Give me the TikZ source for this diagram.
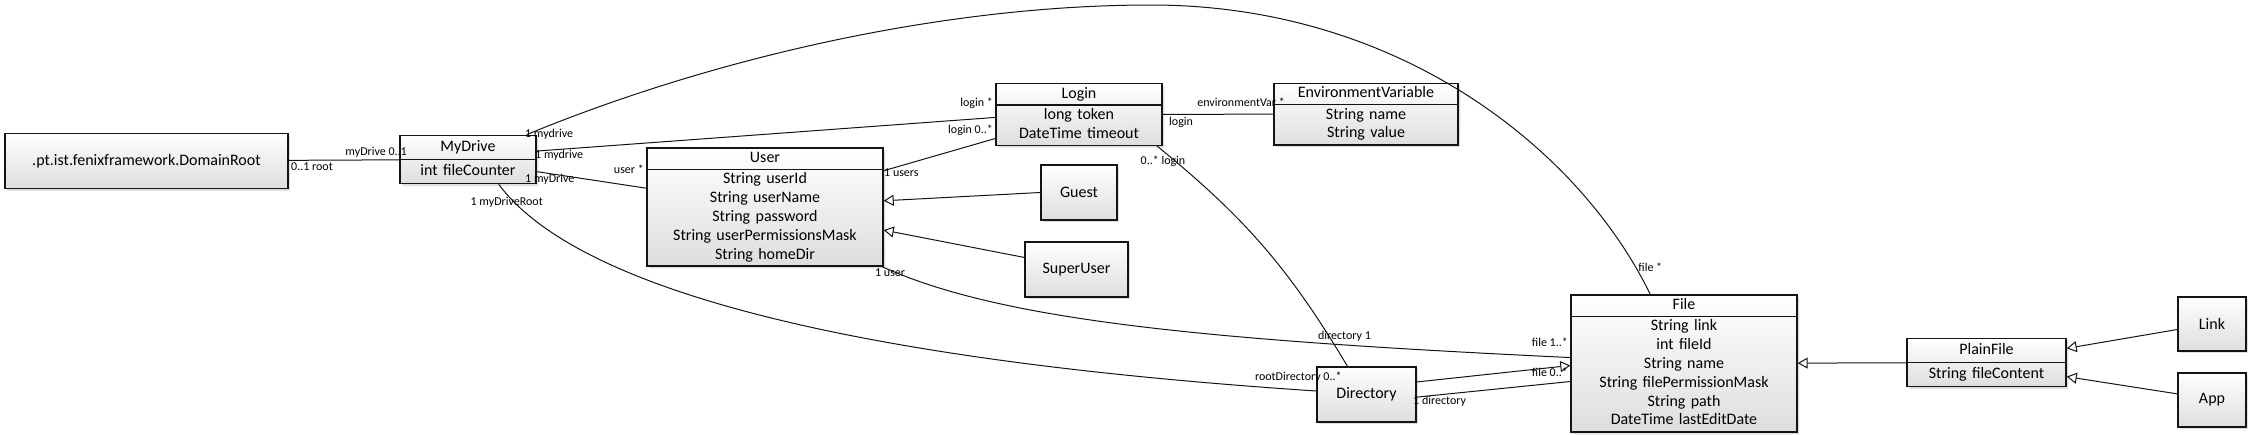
\documentclass[tikz,border=0pt]{standalone}
\usepackage{fontspec}
\setmainfont{Carlito}
\usetikzlibrary{shapes.multipart,shadows,arrows.meta}
\definecolor{colortext}{RGB}{20,20,20}
\definecolor{colorfill}{RGB}{222,222,222}

\begin{document}
\begin{tikzpicture}[
    x=0.5pt, y=-0.5pt,
    font={\fontsize{8}{9.4}\selectfont},
    base/.style={draw=colortext,line width=0.7pt,top color=white,bottom color=colorfill,
        drop shadow={shadow xshift=1.2pt,shadow yshift=-1.2pt,opacity=0.25}},
    cls/.style={base,rectangle split,rectangle split parts=2,align=center,inner xsep=2pt,inner ysep=0.3pt},
    plain/.style={base,rectangle,align=center,minimum height=27.5pt,inner sep=1pt},
    role/.style={font={\fontsize{6}{7}\selectfont},inner sep=1pt},
    assoc/.style={draw=colortext,line width=0.5pt},
    inherit/.style={assoc,-{Triangle[open,length=5pt,width=5.5pt]}},
]
    \useasboundingbox (0,0) rectangle (2250,434);

    % Classes
    \node[plain,minimum width=141.5pt] (root) at (146.5,161) {.pt.ist.fenixframework.DomainRoot};
    \node[cls,text width=64pt,inner ysep=1pt] (mydrive) at (468,159.5)
        {\strut MyDrive \nodepart{two}\strut int fileCounter};
    \node[cls,text width=114pt] (user) at (765,207)
        {\strut User \nodepart{two}\strut String userId\\String userName\\String password\\String userPermissionsMask\\String homeDir\strut};
    \node[cls,text width=79pt] (login) at (1079,114.5)
        {\strut Login \nodepart{two}\strut long token\\DateTime timeout\strut};
    \node[cls,text width=88pt] (envvar) at (1366,114)
        {\strut EnvironmentVariable \nodepart{two}\strut String name\\String value\strut};
    \node[plain,minimum width=38pt]   (guest)     at (1079,192.5)  {Guest};
    \node[plain,minimum width=51.5pt] (superuser) at (1076.5,269.5) {SuperUser};
    \node[plain,minimum width=49.5pt] (directory) at (1366.5,394.5) {Directory};
    \node[cls,text width=109pt] (file) at (1684,363.5)
        {\strut File \nodepart{two}\strut String link\\int fileId\\String name\\String filePermissionMask\\String path\\DateTime lastEditDate\strut};
    \node[cls,text width=75.5pt,inner ysep=1pt] (plainfile) at (1986.5,362.5)
        {\strut PlainFile \nodepart{two}\strut String fileContent};
    \node[plain,minimum width=34pt,minimum height=27pt] (link) at (2212,324) {Link};
    \node[plain,minimum width=34pt,minimum height=27pt] (app)  at (2212,400) {App};

    % Associations
    \draw[assoc] (root) -- (mydrive)
        node[role,at start,anchor=north west] {0..1 root}
        node[role,at end,anchor=south east,xshift=5pt] {myDrive 0..1};
    \draw[assoc] (mydrive.23) .. controls (720,55) and (950,5) .. (1151,5)
        node[role,at start,anchor=west,xshift=-2pt] {1 mydrive}
        .. controls (1400,5) and (1580,150) .. (file.116)
        node[role,at end,anchor=south,yshift=10pt] {file *};
    \draw[assoc] (mydrive.7) -- (login.182)
        node[role,at start,anchor=west,xshift=-2pt,yshift=-2pt] {1 mydrive}
        node[role,at end,anchor=south east,yshift=3pt] {login *};
    \draw[assoc] (mydrive.-10) -- (user.171)
        node[role,at start,anchor=north west,xshift=-7pt] {1 myDrive}
        node[role,at end,anchor=south east,yshift=6pt] {user *};
    \draw[assoc] (mydrive.-39) .. controls (600,320) and (1000,370) .. (directory.176)
        node[role,at start,anchor=north,xshift=4pt,yshift=-5pt] {1 myDriveRoot}
        node[role,at end,anchor=south,xshift=-9pt,yshift=3pt] {rootDirectory 0..*};
    \draw[assoc] (user.17) -- (login.196)
        node[role,at start,anchor=west,xshift=-1pt,yshift=-1pt] {1 users}
        node[role,at end,anchor=south east] {login 0..*};
    \draw[assoc] (user.-27) .. controls (1000,320) and (1200,340) .. (file.177)
        node[role,at start,anchor=north,xshift=4pt] {1 user}
        node[role,at end,anchor=south east,yshift=4pt] {file 1..*};
    \draw[assoc] (login.-22) to[bend left=10]
        node[role,at start,anchor=north,xshift=3pt,yshift=-3.5pt] {0..* login}
        node[role,at end,anchor=south,xshift=-1.5pt,yshift=11pt] {directory 1}
        (directory.124);
    \draw[assoc] (login) -- (envvar)
        node[role,at start,anchor=north west,xshift=2pt] {login}
        node[role,at end,anchor=south east,xshift=7pt,yshift=2.5pt] {environmentVar *};
    \draw[assoc] (directory.-3) -- (file.189)
        node[role,at start,anchor=west,xshift=-3pt,yshift=-2pt] {1 directory}
        node[role,at end,anchor=south east,yshift=1pt] {file 0..*};

    % Generalizations
    \draw[inherit] (guest.west) -- (user.3);
    \draw[inherit] (superuser.167) -- (user.-11);
    \draw[inherit] (directory.14) -- (file.181);
    \draw[inherit] (plainfile) -- (file);
    \draw[inherit] (link.189) -- (plainfile.10);
    \draw[inherit] (app.170) -- (plainfile.-10);

\end{tikzpicture}
\end{document}
